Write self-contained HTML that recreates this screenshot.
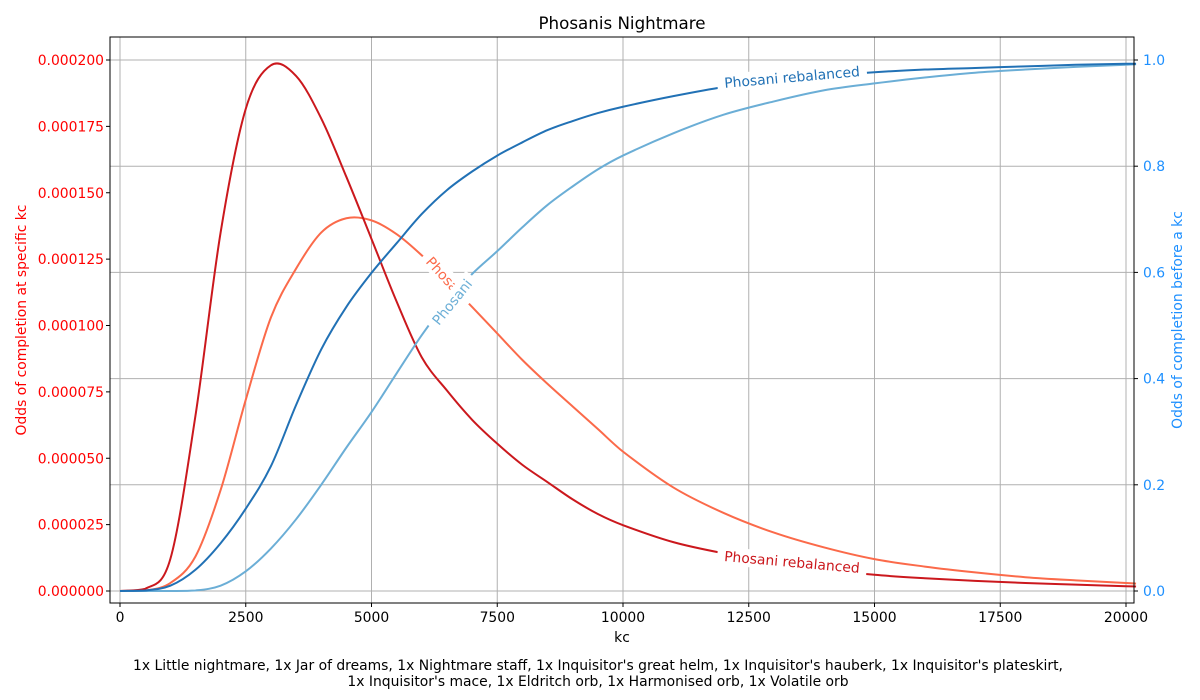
<!DOCTYPE html>
<html><head><meta charset="utf-8"><style>
body{margin:0;background:#fff;}
svg text{font-family:"DejaVu Sans","Liberation Sans",sans-serif;}
</style></head><body>
<svg id="chart" width="1200" height="700" viewBox="0 0 1200 700" style="position:absolute;left:0;top:0">
<rect width="1200" height="700" fill="#fff"/>
<g id="grid"></g><g id="series"></g><g id="labels"></g><g id="axes"></g>
</svg>
<script>
const kcSamples=[0,500,1000,1500,2000,2500,3000,3500,4000,4500,5000,5500,6000,6500,7000,7500,8000,8500,9000,9500,10000,11000,12000,13000,14000,15000,16000,17000,18000,19000,20000,20200];
const pdfRebal=[0,0.0000008,0.000012,0.000066,0.000135,0.0001816,0.000198,0.000194,0.000178,0.000156,0.0001326,0.000109,0.000088,0.0000755,0.0000645,0.0000555,0.0000475,0.000041,0.0000345,0.000029,0.0000248,0.0000184,0.0000142,0.000011,0.0000081,0.0000061,0.0000048,0.0000038,0.000003,0.0000024,0.0000018,0.0000017];
const pdfOrig=[0,0.0000002,0.000003,0.000013,0.000038,0.000072,0.000103,0.0001214,0.000135,0.0001404,0.0001396,0.0001344,0.0001264,0.0001168,0.000107,0.000097,0.000087,0.000078,0.0000695,0.000061,0.0000525,0.000039,0.0000294,0.000022,0.0000164,0.000012,0.0000092,0.000007,0.0000052,0.000004,0.000003,0.0000028];
const cdfRebal=[0,0.001,0.01,0.04,0.09,0.155,0.235,0.35,0.455,0.535,0.599,0.655,0.71,0.755,0.79,0.82,0.845,0.868,0.885,0.9,0.912,0.932,0.949,0.96,0.97,0.977,0.982,0.985,0.988,0.991,0.993,0.993];
const cdfOrig=[0,0,0,0.001,0.01,0.037,0.08,0.135,0.2,0.27,0.337,0.41,0.482,0.545,0.597,0.64,0.685,0.727,0.762,0.794,0.82,0.862,0.897,0.922,0.943,0.956,0.967,0.976,0.982,0.987,0.991,0.992];
const xTicks=[0,2500,5000,7500,10000,12500,15000,17500,20000];
const yLeftTicks=[0,0.000025,0.00005,0.000075,0.0001,0.000125,0.00015,0.000175,0.0002];
const yRightTicks=[0,0.2,0.4,0.6,0.8,1.0];

const NS="http://www.w3.org/2000/svg";
const L=110,R=1134,T=37,B=603;
const X=kc=>120+kc*0.0503;
const YL=v=>591-v/0.0002*531;
const YR=v=>591-v*531;
function mk(tag,attrs,parent,txt){const e=document.createElementNS(NS,tag);for(const k in attrs)e.setAttribute(k,attrs[k]);if(txt!==undefined)e.textContent=txt;parent.appendChild(e);return e;}
const grid=document.getElementById('grid'),series=document.getElementById('series'),labels=document.getElementById('labels'),axes=document.getElementById('axes');
xTicks.forEach(t=>{const l=mk('line',{x1:X(t),x2:X(t),y1:T,y2:B,stroke:'#b0b0b0','stroke-width':1},grid);

});
yRightTicks.forEach(t=>{const l=mk('line',{x1:L,x2:R,y1:YR(t),y2:YR(t),stroke:'#b0b0b0','stroke-width':1},grid);

});
function pathFrom(xs,ys,yf){const p=xs.map((k,i)=>[X(k),yf(ys[i])]);const n=p.length;const base=yf(0);
let s='M'+p[0][0]+','+p[0][1];
for(let i=0;i<n-1;i++){const p0=p[i-1]||p[i],p1=p[i],p2=p[i+1],p3=p[i+2]||p2;const h=p2[0]-p1[0];
const m1=(p2[1]-p0[1])/(p2[0]-p0[0]),m2=(p3[1]-p1[1])/(p3[0]-p1[0]);
const c1y=Math.min(base,p1[1]+m1*h/3),c2y=Math.min(base,p2[1]-m2*h/3);
s+=` C${p1[0]+h/3},${c1y} ${p2[0]-h/3},${c2y} ${p2[0]},${p2[1]}`;}return s;}
const s1=mk('path',{d:pathFrom(kcSamples,pdfOrig,YL),fill:'none',stroke:'#fb6a4a','stroke-width':2},series);


const s2=mk('path',{d:pathFrom(kcSamples,pdfRebal,YL),fill:'none',stroke:'#cb181d','stroke-width':2},series);


const s3=mk('path',{d:pathFrom(kcSamples,cdfOrig,YR),fill:'none',stroke:'#6baed6','stroke-width':2},series);


const s4=mk('path',{d:pathFrom(kcSamples,cdfRebal,YR),fill:'none',stroke:'#2171b5','stroke-width':2},series);


function inlineLabel(txt,cx,cy,ang,color,w,name){const g=mk('g',{transform:`translate(${cx},${cy}) rotate(${ang})`},labels);


mk('rect',{x:-w/2-6,y:-9,width:w+12,height:18,fill:'#fff'},g);
mk('text',{x:0,y:5,'text-anchor':'middle','font-size':13.9,fill:color},g,txt);}
inlineLabel('Phosani',447,279,48,'#fb6a4a',54,'phosani-pdf-label');
inlineLabel('Phosani',452,302,-51,'#6baed6',54,'phosani-cdf-label');
inlineLabel('Phosani rebalanced',792,77,-5,'#2171b5',138,'rebalanced-cdf-label');
inlineLabel('Phosani rebalanced',792,562,5,'#cb181d',138,'rebalanced-pdf-label');
const fr=mk('rect',{x:L,y:T,width:R-L,height:B-T,fill:'none',stroke:'#000','stroke-width':1},axes);


xTicks.forEach(t=>{mk('line',{x1:X(t),x2:X(t),y1:B,y2:B+4,stroke:'#000'},axes);
const tx=mk('text',{x:X(t),y:B+19,'text-anchor':'middle','font-size':13.9,fill:'#000'},axes,String(t));

});
yLeftTicks.forEach(t=>{mk('line',{x1:L-4,x2:L,y1:YL(t),y2:YL(t),stroke:'#000'},axes);
const tx=mk('text',{x:L-6,y:YL(t)+5,'text-anchor':'end','font-size':13.9,fill:'#ff0000'},axes,t.toFixed(6));

});
yRightTicks.forEach(t=>{mk('line',{x1:R,x2:R+4,y1:YR(t),y2:YR(t),stroke:'#000'},axes);
const tx=mk('text',{x:R+9,y:YR(t)+5,'text-anchor':'start','font-size':13.9,fill:'#1e90ff'},axes,t.toFixed(1));

});
</script>
<svg width="1200" height="700" style="position:absolute;left:0;top:0;pointer-events:none">
<text x="622" y="29" text-anchor="middle" font-size="16.7" fill="#000">Phosanis Nightmare</text>
<text x="622" y="642" text-anchor="middle" font-size="13.9" fill="#000">kc</text>
<text transform="translate(26,320) rotate(-90)" text-anchor="middle" font-size="13.9" fill="#ff0000">Odds of completion at specific kc</text>
<text transform="translate(1182,320) rotate(-90)" text-anchor="middle" font-size="13.9" fill="#1e90ff">Odds of completion before a kc</text>
<text x="598" y="670" text-anchor="middle" font-size="13.9" fill="#000">1x Little nightmare, 1x Jar of dreams, 1x Nightmare staff, 1x Inquisitor's great helm, 1x Inquisitor's hauberk, 1x Inquisitor's plateskirt,</text>
<text x="598" y="686" text-anchor="middle" font-size="13.9" fill="#000">1x Inquisitor's mace, 1x Eldritch orb, 1x Harmonised orb, 1x Volatile orb</text>
</svg>
</body></html>
